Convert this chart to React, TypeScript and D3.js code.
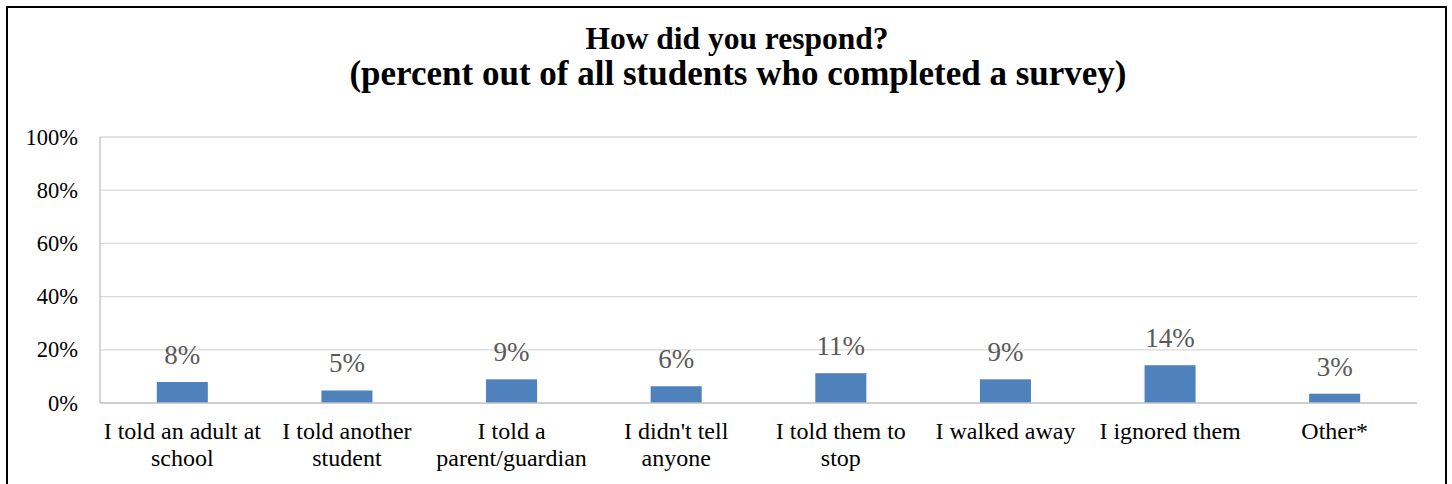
import * as d3 from 'd3';

// Response categories, each split into the lines shown under the axis
const CATEGORIES = [
  'I told an adult at school',
  'I told another student',
  'I told a parent/guardian',
  "I didn't tell anyone",
  'I told them to stop',
  'I walked away',
  'I ignored them',
  'Other*',
];
const CATEGORY_LINES = [
  ['I told an adult at', 'school'],
  ['I told another', 'student'],
  ['I told a', 'parent/guardian'],
  ["I didn't tell", 'anyone'],
  ['I told them to', 'stop'],
  ['I walked away'],
  ['I ignored them'],
  ['Other*'],
];
const VALUES = [7.9, 4.7, 8.9, 6.3, 11.2, 8.9, 14.2, 3.5];
const VALUE_LABELS = ['8%', '5%', '9%', '6%', '11%', '9%', '14%', '3%'];
const Y_TICKS = [0, 20, 40, 60, 80, 100];

const W = 1452;
const H = 484;
const PLOT = { left: 100, right: 1417, top: 137, bottom: 403 };
const FONT = '"Liberation Serif", "Times New Roman", serif';
const BAR = '#4f81bd';

export default function App() {
  const x = d3
    .scaleBand<string>()
    .domain(CATEGORIES)
    .range([PLOT.left, PLOT.right])
    .paddingInner(0)
    .paddingOuter(0);
  const y = d3.scaleLinear().domain([0, 100]).range([PLOT.bottom, PLOT.top]);
  const barW = x.bandwidth() * 0.31;

  return (
    <svg
      width={W}
      height={H}
      style={{ position: 'absolute', left: 0, top: 0, background: '#fff' }}
    >
      <rect x={7} y={7} width={1439} height={500} fill="#fff" stroke="#000" strokeWidth={2} />

      <text textAnchor="middle" fontFamily={FONT} fontWeight="bold" fill="#000">
        <tspan x={737} y={49} fontSize={31.5}>How did you respond?</tspan>
        <tspan x={738} y={85} fontSize={35}>(percent out of all students who completed a survey)</tspan>
      </text>

      {/* gridlines */}
      {Y_TICKS.filter(t => t > 0).map(t => (
        <line key={t} x1={PLOT.left} x2={PLOT.right} y1={y(t)} y2={y(t)} stroke="#d9d9d9" strokeWidth={1.3} />
      ))}
      {/* y axis line */}
      <line x1={PLOT.left} x2={PLOT.left} y1={PLOT.top} y2={PLOT.bottom} stroke="#bfbfbf" strokeWidth={1.3} />

      {/* y tick labels */}
      {Y_TICKS.map(t => (
        <text
          key={t}
          x={78}
          y={y(t)}
          dy="0.34em"
          textAnchor="end"
          fontFamily={FONT}
          fontSize={22.5}
          fill="#000"
        >
          {`${t}%`}
        </text>
      ))}

      {/* bars */}
      {CATEGORIES.map((c, i) => {
        const cx = (x(c) ?? 0) + x.bandwidth() / 2;
        return (
          <g key={c}>
            <rect x={cx - barW / 2} y={y(VALUES[i])} width={barW} height={y(0) - y(VALUES[i])} fill={BAR} />
            <text
              x={cx}
              y={y(VALUES[i]) - 18}
              textAnchor="middle"
              fontFamily={FONT}
              fontSize={27}
              fill="#595959"
            >
              {VALUE_LABELS[i]}
            </text>
            <text textAnchor="middle" fontFamily={FONT} fontSize={24} fill="#000">
              {CATEGORY_LINES[i].map((ln, j) => (
                <tspan key={j} x={cx} y={439 + j * 27}>
                  {ln}
                </tspan>
              ))}
            </text>
          </g>
        );
      })}

      {/* x axis line */}
      <line x1={PLOT.left} x2={PLOT.right} y1={y(0)} y2={y(0)} stroke="#bfbfbf" strokeWidth={1.3} />
    </svg>
  );
}
